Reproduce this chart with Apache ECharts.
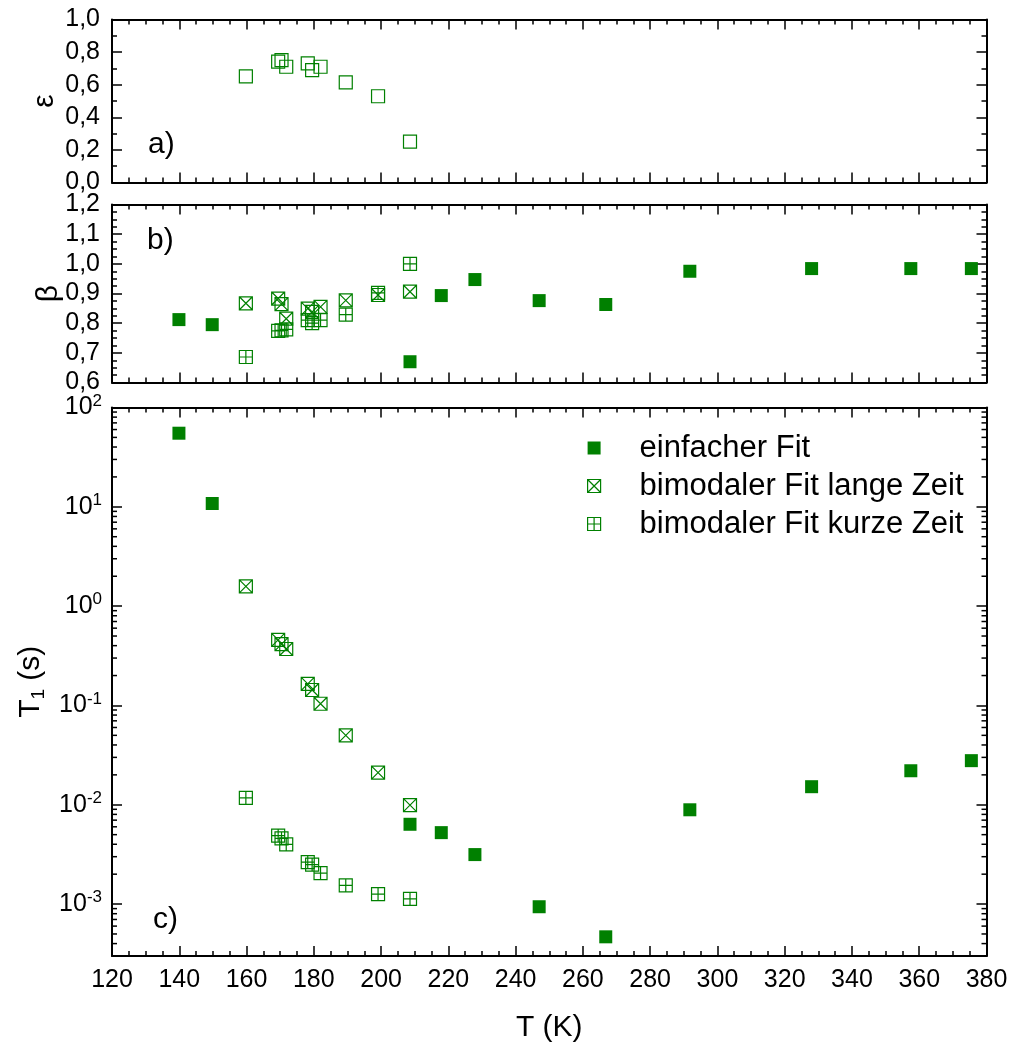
<!DOCTYPE html>
<html>
<head>
<meta charset="utf-8">
<script src="https://cdn.jsdelivr.net/npm/echarts@6/dist/echarts.min.js"></script>
<style>
  html, body { margin: 0; padding: 0; background: #fff; }
  #chart { width: 1012px; height: 1048px; }
</style>
</head>
<body>
<div id="chart"></div>
<script>
// Temperatures (K) of the bimodal fits, shared by panels a), b) and c)
const tempBimodal = [159.8, 169.4, 170.4, 171.8, 178.2, 179.5, 182.0, 189.5, 199.1, 208.6];
// Temperatures (K) of the single (stretched exponential) fits
const tempSingle = [139.9, 149.8, 208.6, 217.9, 227.9, 247.0, 266.8, 291.8, 328.0, 357.5, 375.5];

// a) weight of the long component
const epsilon = [0.651, 0.741, 0.751, 0.710, 0.731, 0.690, 0.710, 0.614, 0.529, 0.251];

// b) stretching exponents
const betaSingle = [0.812, 0.795, 0.670, 0.893, 0.947, 0.876, 0.863, 0.975, 0.984, 0.984, 0.984];
const betaLong = [0.867, 0.883, 0.864, 0.815, 0.849, 0.838, 0.855, 0.877, 0.895, 0.906];
const betaShort = [0.686, 0.774, 0.776, 0.779, 0.810, 0.800, 0.810, 0.829, 0.902, 1.000];

// c) relaxation times T1 (s)
const t1Single = [55.1, 10.8, 0.00636, 0.00524, 0.00315, 0.00094, 0.000468, 0.0089, 0.0152, 0.0220, 0.0278];
const t1Long = [1.58, 0.458, 0.415, 0.370, 0.165, 0.143, 0.104, 0.0499, 0.0211, 0.0099];
const t1Short = [0.01175, 0.00489, 0.00459, 0.00400, 0.00264, 0.00250, 0.00205, 0.00154, 0.00126, 0.00113];

const seriesNames = ['einfacher Fit', 'bimodaler Fit lange Zeit', 'bimodaler Fit kurze Zeit'];
const panelLabels = ['a)', 'b)', 'c)'];

const GREEN = '#008000';
const FONT = '"Liberation Sans", Arial, Helvetica, sans-serif';
const SQ = 'path://M0,0H10V10H0Z';
const SQ_CROSS = 'path://M0,0H10V10H0Z M0,0L10,10 M10,0L0,10';
const SQ_PLUS = 'path://M0,0H10V10H0Z M5,0V10 M0,5H10';

const zip = (xs, ys) => xs.map((x, i) => [x, ys[i]]);
const comma = v => v.toFixed(1).replace('.', ',');

// logarithmic minor tick positions (2..9 per decade) for panel c)
const logMinor = [];
for (let e = -4; e < 2; e++) {
  for (let m = 2; m <= 9; m++) {
    const v = m * Math.pow(10, e);
    if (v > 0.0003 && v < 100) logMinor.push(v);
  }
}

const grids = [
  { left: 112, top: 19.5, width: 874.5, height: 163 },
  { left: 112, top: 204.5, width: 874.5, height: 178 },
  { left: 112, top: 407.5, width: 874.5, height: 550 }
];

const axisLine = { show: true, onZero: false, lineStyle: { color: '#000', width: 2 } };
const tick = { show: true, inside: true, length: 10, lineStyle: { color: '#000', width: 1.5 } };
const minor = (n) => ({ show: true, splitNumber: n, length: 5, lineStyle: { color: '#000', width: 1.5 } });
const labelStyle = { color: '#000', fontSize: 25, fontFamily: FONT };

function xAxes(gi, showLabels) {
  const base = {
    type: 'value', gridIndex: gi, min: 120, max: 380, interval: 20,
    axisLine, axisTick: tick, minorTick: minor(4), splitLine: { show: false }
  };
  const bottom = Object.assign({}, base, {
    position: 'bottom',
    axisLabel: showLabels ? Object.assign({ margin: 12 }, labelStyle) : { show: false }
  });
  if (showLabels) {
    Object.assign(bottom, {
      name: 'T (K)', nameLocation: 'middle', nameGap: 57,
      nameTextStyle: { color: '#000', fontSize: 30, fontFamily: FONT }
    });
  }
  const top = Object.assign({}, base, { position: 'top', axisLabel: { show: false } });
  return [bottom, top];
}

function linearYAxes(gi, min, max, interval, minorSplit, name, nameGap) {
  const base = {
    type: 'value', gridIndex: gi, min, max, interval,
    axisLine, axisTick: tick, minorTick: minor(minorSplit), splitLine: { show: false }
  };
  const left = Object.assign({}, base, {
    position: 'left',
    axisLabel: Object.assign({ margin: 12, formatter: comma }, labelStyle),
    name, nameLocation: 'middle', nameGap, nameMoveOverlap: false,
    nameTextStyle: { color: '#000', fontSize: 30, fontFamily: FONT }
  });
  const right = Object.assign({}, base, { position: 'right', axisLabel: { show: false } });
  return [left, right];
}

function powerLabel(v) {
  const e = Math.round(Math.log10(v));
  if (Math.abs(v - Math.pow(10, e)) > 1e-6 * Math.pow(10, e)) return '';
  return '{b|10}{s|' + e + '}';
}

const logBase = {
  type: 'log', logBase: 10, gridIndex: 2, min: 0.0003, max: 100,
  axisLine, axisTick: tick, splitLine: { show: false }, minorTick: { show: false }
};
const logLeft = Object.assign({}, logBase, {
  position: 'left',
  axisLabel: {
    margin: 10, formatter: powerLabel, color: '#000', fontFamily: FONT,
    rich: {
      b: { fontSize: 25, lineHeight: 30, fontFamily: FONT, color: '#000' },
      s: { fontSize: 17, lineHeight: 17, verticalAlign: 'top', fontFamily: FONT, color: '#000' }
    }
  },
  name: '{t|T}{i|1}{t| (s)}', nameLocation: 'middle', nameGap: 60,
  nameTextStyle: {
    color: '#000', fontFamily: FONT,
    rich: {
      t: { fontSize: 30, lineHeight: 34, fontFamily: FONT, color: '#000' },
      i: { fontSize: 19, lineHeight: 19, verticalAlign: 'bottom', fontFamily: FONT, color: '#000' }
    }
  }
});
const logRight = Object.assign({}, logBase, { position: 'right', axisLabel: { show: false } });

const filledStyle = { color: GREEN, opacity: 1 };
const openStyle = { color: 'rgba(0,0,0,0)', borderColor: GREEN, borderWidth: 1.2, opacity: 1 };

const option = {
  animation: false,
  backgroundColor: '#fff',
  textStyle: { fontFamily: FONT },
  grid: grids,
  xAxis: [...xAxes(0, false), ...xAxes(1, false), ...xAxes(2, true)],
  yAxis: [
    ...linearYAxes(0, 0, 1, 0.2, 2, 'ε', 52),
    ...linearYAxes(1, 0.6, 1.2, 0.1, 4, 'β', 48),
    logLeft, logRight
  ],
  legend: {
    orient: 'vertical', left: 582, top: 424,
    itemWidth: 81, itemHeight: 13, itemGap: 0, symbolKeepAspect: true,
    textStyle: { color: '#000', fontSize: 31, lineHeight: 38, fontFamily: FONT },
    data: [
      { name: seriesNames[0], icon: SQ, itemStyle: { color: GREEN, borderWidth: 0, opacity: 1 } },
      { name: seriesNames[1], icon: SQ_CROSS, itemStyle: openStyle },
      { name: seriesNames[2], icon: SQ_PLUS, itemStyle: openStyle }
    ]
  },
  graphic: panelLabels.map((txt, i) => ({
    type: 'text', x: [148, 147, 153][i], y: [145, 241, 920][i],
    style: { text: txt, fontSize: 30, fontFamily: FONT, fill: '#000', verticalAlign: 'middle' }
  })),
  series: [
    {
      name: 'ε', type: 'scatter', xAxisIndex: 0, yAxisIndex: 0,
      symbol: SQ, symbolSize: 13, itemStyle: openStyle,
      data: zip(tempBimodal, epsilon)
    },
    {
      name: seriesNames[0], type: 'scatter', xAxisIndex: 2, yAxisIndex: 2,
      symbol: 'rect', symbolSize: 13, itemStyle: filledStyle,
      data: zip(tempSingle, betaSingle)
    },
    {
      name: seriesNames[1], type: 'scatter', xAxisIndex: 2, yAxisIndex: 2,
      symbol: SQ_CROSS, symbolSize: 13, itemStyle: openStyle,
      data: zip(tempBimodal, betaLong)
    },
    {
      name: seriesNames[2], type: 'scatter', xAxisIndex: 2, yAxisIndex: 2,
      symbol: SQ_PLUS, symbolSize: 13, itemStyle: openStyle,
      data: zip(tempBimodal, betaShort)
    },
    {
      name: seriesNames[0], type: 'scatter', xAxisIndex: 4, yAxisIndex: 4,
      symbol: 'rect', symbolSize: 13, itemStyle: filledStyle,
      data: zip(tempSingle, t1Single)
    },
    {
      name: seriesNames[1], type: 'scatter', xAxisIndex: 4, yAxisIndex: 4,
      symbol: SQ_CROSS, symbolSize: 13, itemStyle: openStyle,
      data: zip(tempBimodal, t1Long)
    },
    {
      name: seriesNames[2], type: 'scatter', xAxisIndex: 4, yAxisIndex: 4,
      symbol: SQ_PLUS, symbolSize: 13, itemStyle: openStyle,
      data: zip(tempBimodal, t1Short)
    },
    {
      // minor ticks of the logarithmic T1 axis, on both the left and right frame
      name: 'logMinorTicks', type: 'custom', xAxisIndex: 4, yAxisIndex: 4,
      silent: true, clip: false, z: 5,
      data: logMinor.map(v => [120, v]),
      renderItem(params, api) {
        const cs = params.coordSys;
        const y = api.coord([api.value(0), api.value(1)])[1];
        const st = { stroke: '#000', lineWidth: 1.5 };
        return {
          type: 'group',
          children: [
            { type: 'line', shape: { x1: cs.x, y1: y, x2: cs.x + 5, y2: y }, style: st },
            { type: 'line', shape: { x1: cs.x + cs.width - 5, y1: y, x2: cs.x + cs.width, y2: y }, style: st }
          ]
        };
      }
    }
  ]
};

const chart = echarts.init(document.getElementById('chart'), null, { renderer: 'canvas' });
chart.setOption(option);
</script>
</body>
</html>
